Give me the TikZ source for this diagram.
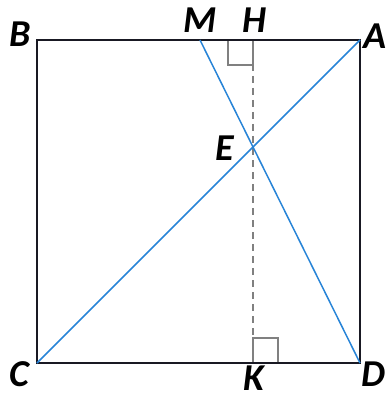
\documentclass[tikz,border=0pt]{standalone}
\usepackage{fontspec}
\setmainfont{Carlito}
\usetikzlibrary{calc}
\definecolor{sideblack}{RGB}{25,25,35}
\definecolor{lineblue}{RGB}{40,132,215}
\definecolor{markgrey}{RGB}{128,128,128}
\tikzset{
	side/.style={draw=sideblack, line width=2.6pt},
	bluecut/.style={draw=lineblue, line width=1.5pt},
	rmark/.style={draw=markgrey, line width=2.6pt},
	perpline/.style={draw=markgrey, line width=2.4pt, dash pattern=on 7pt off 5pt},
	ptlabel/.style={font=\fontsize{38}{38}\selectfont\bfseries\itshape, inner sep=0pt},
}
\begin{document}
\begin{tikzpicture}[x=1pt,y=-1pt]
	\useasboundingbox (0,0) rectangle (387,398);
	\coordinate (B) at (37,40);\coordinate (A) at (360,40);
	\coordinate (C) at (37,363);\coordinate (D) at (360,363);
	\coordinate (M) at (200,40);
	\coordinate (E) at (intersection of A--C and M--D);
	\coordinate (H) at (E|-A);\coordinate (K) at (E|-D);
	% dashed perpendicular and right angle marks
	\draw[perpline](H)--(K);
	\draw[rmark]($(H)+(-25,0)$)|-($(H)+(0,25)$)--(H);
	\draw[rmark]($(K)+(25,0)$)|-($(K)+(0,-25)$)--(K);
	\draw[side](B)--(A)--(D)--(C)--cycle;
	\draw[bluecut](A)--(C);\draw[bluecut](M)--(D);
	\node[ptlabel](lB) at (20,34){B};
	\node[ptlabel](lM) at (200,20){M};
	\node[ptlabel](lH) at (254,20){H};
	\node[ptlabel](lA) at (375,36){A};
	\node[ptlabel](lE) at (225,148){E};
	\node[ptlabel](lC) at (19,374){C};
	\node[ptlabel](lK) at (254,378){K};
	\node[ptlabel](lD) at (373,374){D};
\end{tikzpicture}
\end{document}
